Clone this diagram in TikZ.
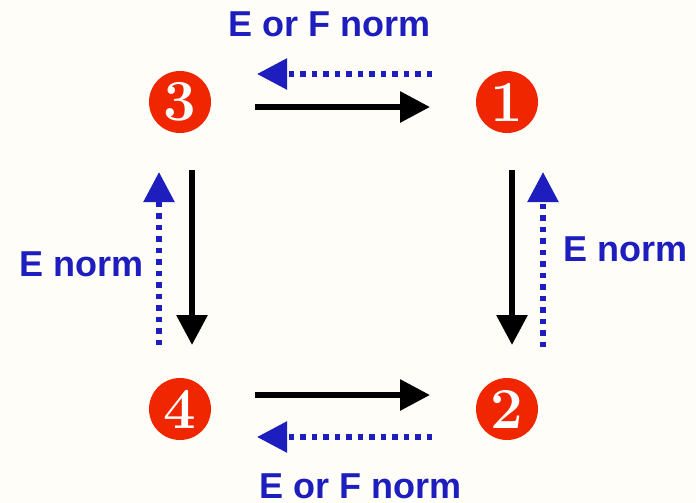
\documentclass[tikz,border=0pt]{standalone}
\usepackage{fontspec}
\newfontfamily\labelfont{Liberation Sans}
\usetikzlibrary{arrows.meta}
\definecolor{paper}{RGB}{255,253,247}
\definecolor{stepred}{RGB}{240,38,0}
\definecolor{normblue}{RGB}{30,30,190}
\tikzset{
  stepnum/.style={circle, fill=stepred, minimum size=62pt, inner sep=0pt,
    text=white, font=\fontsize{58}{58}\selectfont\bfseries},
  fwd/.style={draw=black, line width=6pt,
    -{Triangle[length=30pt,width=30pt]}},
  back/.style={draw=normblue, line width=5.5pt, dash pattern=on 5.5pt off 6pt,
    -{Triangle[length=30pt,width=30pt]}},
  normlabel/.style={text=normblue, anchor=base, inner sep=0pt,
    font=\labelfont\fontsize{36}{36}\selectfont\bfseries}
}
\begin{document}
\begin{tikzpicture}[x=1pt,y=-1pt]
  \fill[paper] (0,0) rectangle (696,503);
  \useasboundingbox (0,0) rectangle (696,503);

  % the four states
  \node[stepnum] (n3) at (180,102) {3};
  \node[stepnum] (n1) at (507,102) {1};
  \node[stepnum] (n4) at (180,409) {4};
  \node[stepnum] (n2) at (507,409) {2};

  % forward moves
  \draw[fwd] ([shift={(75,5)}]n3.center) -- ([shift={(-77,5)}]n1.center);
  \draw[fwd] ([shift={(5,68)}]n1.center) -- ([shift={(5,-64)}]n2.center);
  \draw[fwd] ([shift={(75,-14)}]n4.center) -- ([shift={(-77,-14)}]n2.center);
  \draw[fwd] ([shift={(12,68)}]n3.center) -- ([shift={(12,-64)}]n4.center);

  % reverse moves
  \draw[back] ([shift={(-75,-28)}]n1.center) -- ([shift={(77,-28)}]n3.center);
  \draw[back] ([shift={(36,-62)}]n2.center) -- ([shift={(36,70)}]n1.center);
  \draw[back] ([shift={(-75,28)}]n2.center) -- ([shift={(77,28)}]n4.center);
  \draw[back] ([shift={(-21,-64)}]n4.center) -- ([shift={(-21,70)}]n3.center);

  % labels of the reverse moves
  \node[normlabel] (ltop) at (330,37) {E or F norm};
  \node[normlabel] (lbot) at (361,498) {E or F norm};
  \node[normlabel] (lleft) at (82,276) {E norm};
  \node[normlabel] (lright) at (626,261) {E norm};
\end{tikzpicture}
\end{document}
